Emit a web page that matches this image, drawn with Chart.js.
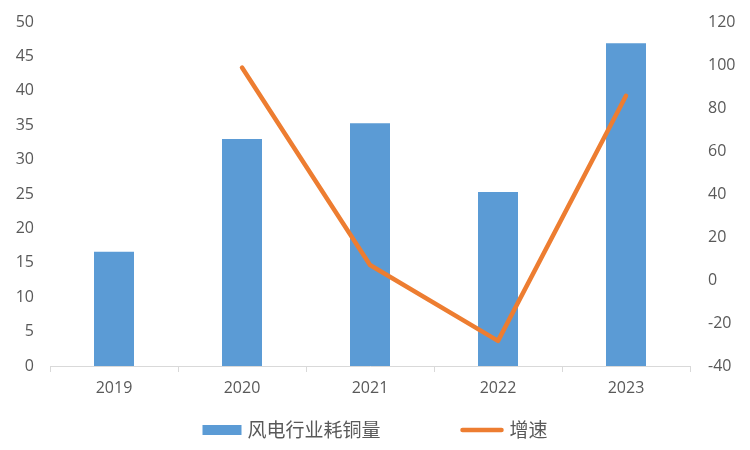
<!DOCTYPE html>
<html>
<head>
<meta charset="utf-8">
<script src="https://cdn.jsdelivr.net/npm/chart.js@4.4.1/dist/chart.umd.min.js"></script>
<style>
  html, body { margin: 0; padding: 0; background: #fff; }
  #wrap { width: 750px; height: 450px; }
</style>
</head>
<body>
<div id="wrap"><canvas id="chart" width="750" height="450"></canvas></div>
<script>
// 数据
const years = ['2019', '2020', '2021', '2022', '2023'];
const copperUse = [16.6, 33.0, 35.3, 25.3, 46.9];   // 风电行业耗铜量
const growth = [null, 98.8, 7.0, -28.3, 85.7];      // 增速 (%)

const barColor = '#5B9BD5';
const lineColor = '#ED7D31';
const tickColor = '#595959';
const tickFont = { family: '"Open Sans", "Noto Sans CJK SC", sans-serif', size: 16 };

// Excel-style legend at the bottom: the built-in legend uses one padding value
// for both the item gap and the vertical space, so draw it here instead
const bottomLegend = {
    id: 'bottomLegend',
    afterDraw(chart) {
        const c = chart.ctx;
        const y = 430;
        c.save();
        c.font = '19px "Noto Sans CJK SC", sans-serif';
        c.fillStyle = tickColor;
        c.textBaseline = 'middle';
        const items = chart.data.datasets.slice().reverse();
        const parts = items.map(ds => ({ ds, w: c.measureText(ds.label).width }));
        const gap = 80;
        const total = parts.reduce((s, p) => s + (p.ds.type === 'bar' ? 39 : 43) + 6 + p.w, 0) + gap;
        let x = chart.width / 2 - total / 2;
        parts.forEach((p, i) => {
            if (p.ds.type === 'bar') {
                c.fillStyle = barColor;
                c.fillRect(x, y - 5, 39, 10);
                x += 39 + 6;
            } else {
                c.strokeStyle = lineColor;
                c.lineWidth = 4.5;
                c.lineCap = 'round';
                c.beginPath();
                c.moveTo(x + 2, y);
                c.lineTo(x + 41, y);
                c.stroke();
                x += 43 + 6;
            }
            c.fillStyle = tickColor;
            c.textAlign = 'left';
            c.fillText(p.ds.label, x, y);
            x += p.w + (i === 0 ? gap : 0);
        });
        c.restore();
    }
};

const ctx = document.getElementById('chart').getContext('2d');
new Chart(ctx, {
    data: {
        labels: years,
        datasets: [
            {
                type: 'line',
                label: '增速',
                data: growth,
                yAxisID: 'y2',
                borderColor: lineColor,
                backgroundColor: lineColor,
                borderWidth: 4.5,
                borderJoinStyle: 'round',
                borderCapStyle: 'round',
                pointRadius: 0,
                spanGaps: false,
                order: 1
            },
            {
                type: 'bar',
                label: '风电行业耗铜量',
                data: copperUse,
                yAxisID: 'y',
                backgroundColor: barColor,
                borderWidth: 0,
                categoryPercentage: 1,
                barPercentage: 0.3125,
                order: 2
            }
        ]
    },
    options: {
        responsive: false,
        animation: false,
        layout: { padding: { top: 22, left: 0, right: 0, bottom: 44 } },
        plugins: {
            tooltip: { enabled: false },
            legend: { display: false }
        },
        scales: {
            x: {
                offset: true,
                grid: {
                    offset: true,
                    drawOnChartArea: false,
                    drawTicks: true,
                    tickLength: 6,
                    color: '#d9d9d9'
                },
                border: { display: true, color: '#d9d9d9', width: 1 },
                ticks: { color: tickColor, font: tickFont, padding: 7 },
                afterFit: function (scale) { scale.height = 40; }
            },
            // hidden tick marks give the label gap, so ticks.padding stays 0
            // and does not push the plot top down
            y: {
                position: 'left',
                min: 0,
                max: 50,
                ticks: { stepSize: 5, color: tickColor, font: tickFont, padding: 0 },
                grid: { display: false, drawTicks: true, tickLength: 16 },
                border: { display: false },
                afterFit: function (scale) { scale.width = 50; }
            },
            y2: {
                position: 'right',
                min: -40,
                max: 120,
                ticks: { stepSize: 20, color: tickColor, font: tickFont, padding: 0 },
                grid: { display: false, drawTicks: true, tickLength: 18 },
                border: { display: false },
                afterFit: function (scale) { scale.width = 60; }
            }
        }
    },
    plugins: [bottomLegend]
});
</script>
</body>
</html>
